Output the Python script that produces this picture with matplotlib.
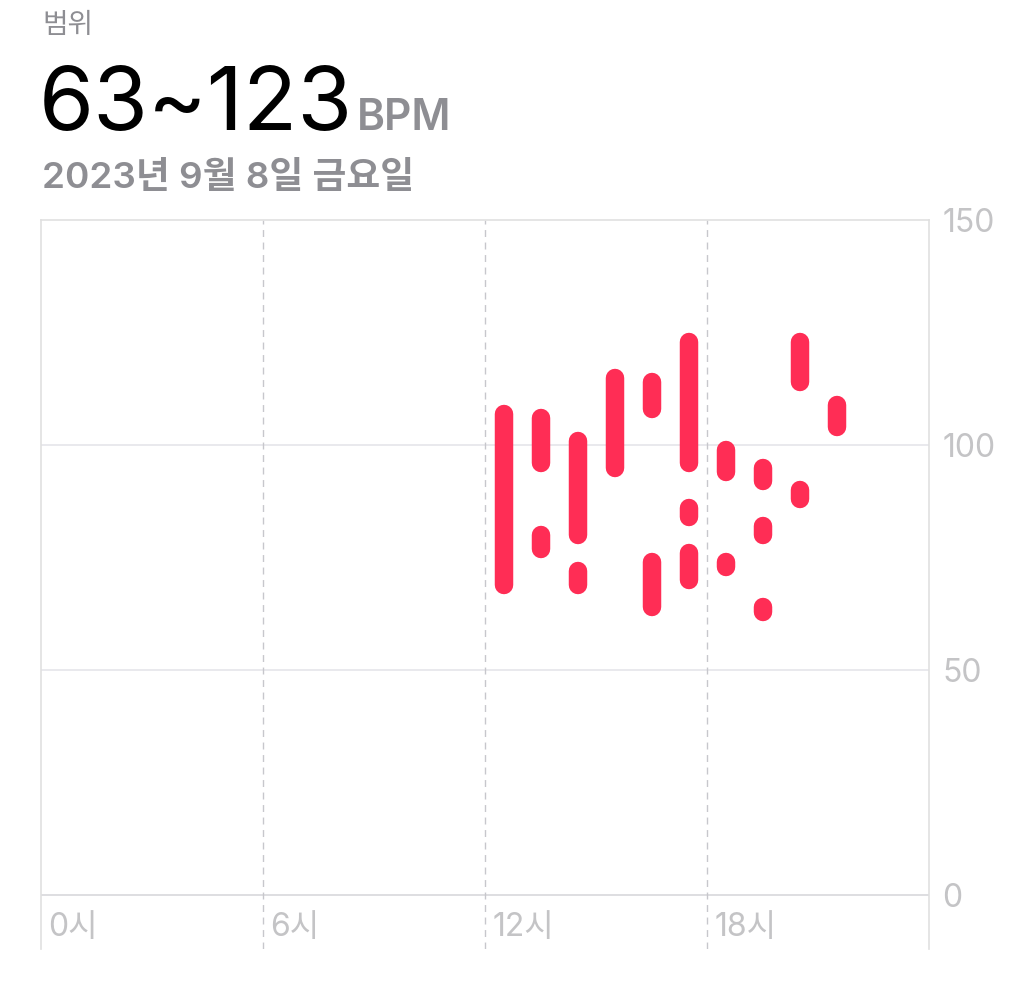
import matplotlib
matplotlib.use("Agg")
import matplotlib.pyplot as plt

plt.rcParams['font.family'] = ['Inter', 'Noto Sans CJK KR', 'DejaVu Sans']

# Data: each segment is one rounded bar (hour bin centre, low BPM, high BPM)
seg_hours = [12.5, 13.5, 13.5, 14.5, 14.5, 15.5, 16.5, 16.5, 17.5, 17.5, 17.5,
             18.5, 18.5, 19.5, 19.5, 19.5, 20.5, 20.5, 21.5]
seg_low = [69, 96, 77, 80, 69, 95, 108, 64, 96, 84, 70,
           94, 73, 92, 80, 63, 114, 88, 104]
seg_high = [107, 106, 80, 101, 72, 115, 114, 74, 123, 86, 76,
            99, 74, 95, 82, 64, 123, 90, 109]

x_ticks = [0, 6, 12, 18]
x_labels = ['0시', '6시', '12시', '18시']
y_ticks = [0, 50, 100, 150]
y_labels = ['0', '50', '100', '150']

title_small = '범위'
title_big = '63~123'
title_unit = 'BPM'
date_text = '2023년 9월 8일 금요일'

W, H = 1024, 981
fig = plt.figure(figsize=(W / 100, H / 100), dpi=100)
fig.patch.set_facecolor('white')

left, right = 41, 929
top, bottom = 220, 949
ax = fig.add_axes([left / W, (H - bottom) / H, (right - left) / W, (bottom - top) / H])
ax.set_xlim(0, 24)
ax.set_ylim(-12, 150)

red = '#FF2D55'
grid_col = '#e5e5ea'
dash_col = '#c7c7cc'
label_col = '#c4c4c6'

# grid
for yv in y_ticks[:-1]:
    ax.axhline(yv, color='#d8d8dc' if yv == 0 else grid_col, lw=1.2, zorder=1)
for xv in x_ticks[1:]:
    ax.axvline(xv, color=dash_col, lw=1.0, linestyle=(0, (5, 4)), zorder=1)

# bars
ax.vlines(seg_hours, seg_low, seg_high, colors=red, linewidth=13.3,
          capstyle='round', zorder=3)

# spines
for s in ['left', 'right', 'top']:
    ax.spines[s].set_color('#e0e0e0')
    ax.spines[s].set_linewidth(1.2)
ax.spines['bottom'].set_visible(False)

ax.set_xticks([])
ax.yaxis.tick_right()
ax.set_yticks(y_ticks)
ax.set_yticklabels(y_labels)
ax.tick_params(axis='y', length=0, pad=9.5, labelsize=23, labelcolor=label_col)

for xv, lab in zip(x_ticks, x_labels):
    ax.text(xv + 0.2, -7.2, lab, fontsize=23, color=label_col,
            ha='left', va='center')

# header texts
fig.text(42 / W, 1 - 26 / H, title_small, fontsize=20, color='#8e8e93',
         ha='left', va='center')
t = fig.text(39 / W, 1 - 130 / H, title_big, fontsize=64, color='black',
             ha='left', va='baseline')
fig.canvas.draw()
bb = t.get_window_extent()
fig.text((bb.x1 + 4) / W, 1 - 130 / H, title_unit, fontsize=30.5, color='#8e8e93',
         ha='left', va='baseline', fontweight='semibold')
fig.text(42 / W, 1 - 188 / H, date_text, fontsize=26.5, color='#8e8e93',
         ha='left', va='baseline', fontweight='semibold')

fig.savefig('out.png', dpi=100, facecolor='white')
